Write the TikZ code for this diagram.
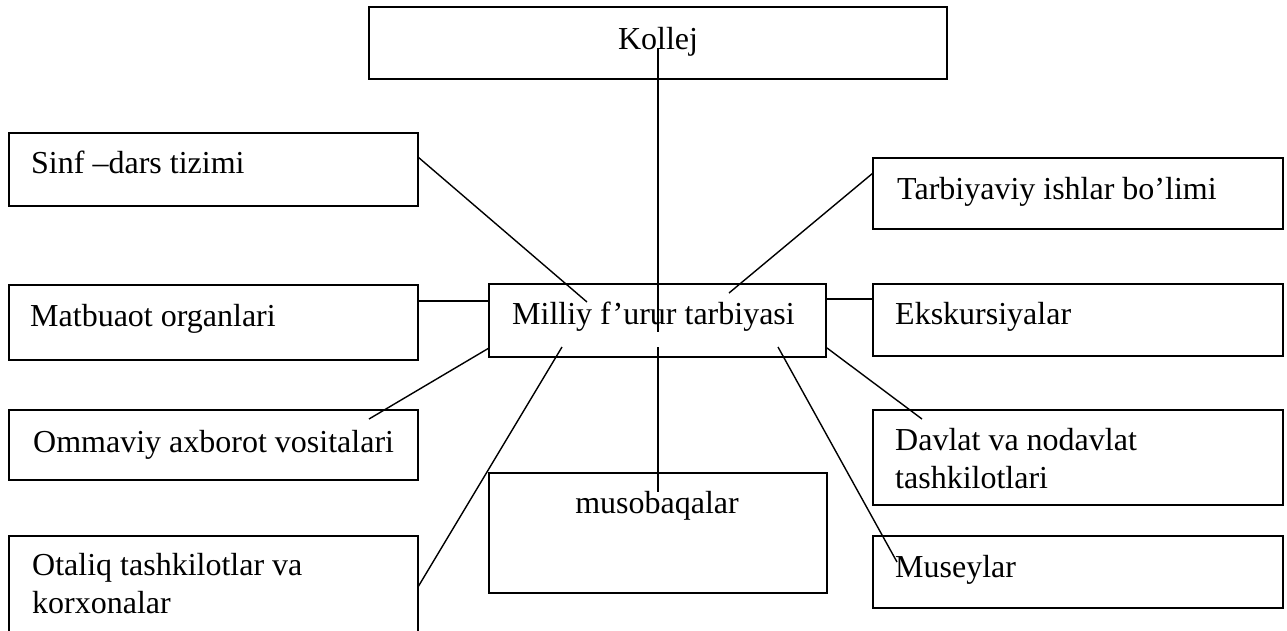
\documentclass[tikz,border=0pt]{standalone}
\usepackage{fontspec}
\setmainfont{Liberation Serif}
\begin{document}
\begin{tikzpicture}[x=1pt,y=-1pt,
  box/.style={draw, line width=2pt, inner sep=0pt, outer sep=0pt},
  link/.style={line width=1.4pt},
  lbl/.style={inner sep=0pt, anchor=base west, font=\fontsize{32}{38}\selectfont, align=left},
  clbl/.style={inner sep=0pt, anchor=base, font=\fontsize{32}{38}\selectfont}]
\useasboundingbox (0,0) rectangle (1287,630);
\clip (0,0) rectangle (1287,630);
\fill[white] (0,0) rectangle (1287,630);

% boxes
\node[box, minimum width=578pt, minimum height=72pt] (kollej) at (658,43) {};
\node[box, minimum width=409pt, minimum height=73pt] (sinf) at (213.5,169.5) {};
\node[box, minimum width=410pt, minimum height=71pt] (tarb) at (1078,193.5) {};
\node[box, minimum width=409pt, minimum height=75pt] (matb) at (213.5,322) {};
\node[box, minimum width=337pt, minimum height=73pt] (milliy) at (657.5,320.5) {};
\node[box, minimum width=410pt, minimum height=72pt] (eks) at (1078,320) {};
\node[box, minimum width=409pt, minimum height=70pt] (omm) at (213.5,445) {};
\node[box, minimum width=410pt, minimum height=95pt] (davlat) at (1078,457.5) {};
\node[box, minimum width=338pt, minimum height=120pt] (musob) at (658,533) {};
\node[box, minimum width=409pt, minimum height=114pt] (otaliq) at (213.5,593) {};
\node[box, minimum width=410pt, minimum height=72pt] (muse) at (1078,572) {};

% texts
\node[clbl] (tkollej) at (658,49) {Kollej};
\node[lbl] (tsinf) at (31,173) {Sinf –dars tizimi};
\node[lbl] (ttarb) at (897,199) {Tarbiyaviy ishlar bo’limi};
\node[lbl] (tmatb) at (30,326) {Matbuaot organlari};
\node[lbl] (tmilliy) at (512,324) {Milliy f’urur tarbiyasi};
\node[lbl] (teks) at (895,324) {Ekskursiyalar};
\node[lbl] (tomm) at (33,452) {Ommaviy axborot vositalari};
\node[lbl] (tdavlat) at (895,488) {Davlat va nodavlat\\tashkilotlari};
\node[clbl] (tmusob) at (657,513) {musobaqalar};
\node[lbl] (totaliq) at (32,613) {Otaliq tashkilotlar va\\korxonalar};
\node[lbl] (tmuse) at (895,577) {Museylar};

% connector end points
\coordinate (k1) at (658,48);
\coordinate (k2) at (658,332);
\coordinate (m1) at (658,347);
\coordinate (m2) at (658,492);
\coordinate (s1) at (418,157);
\coordinate (s2) at (587,302);
\coordinate (t1) at (873,173);
\coordinate (t2) at (729,293);
\coordinate (ma1) at (418,301);
\coordinate (ma2) at (489,301);
\coordinate (e1) at (826,299);
\coordinate (e2) at (873,299);
\coordinate (o1) at (489,348);
\coordinate (o2) at (369,419);
\coordinate (ot1) at (562,347);
\coordinate (ot2) at (418,587);
\coordinate (d1) at (827,348);
\coordinate (d2) at (922,419);
\coordinate (mu1) at (778,347);
\coordinate (mu2) at (897,562);

% connectors
\draw[link] (k1) -- (k2);
\draw[link] (m1) -- (m2);
\draw[link] (s1) -- (s2);
\draw[link] (t1) -- (t2);
\draw[link] (ma1) -- (ma2);
\draw[link] (e1) -- (e2);
\draw[link] (o1) -- (o2);
\draw[link] (ot1) -- (ot2);
\draw[link] (d1) -- (d2);
\draw[link] (mu1) -- (mu2);
\end{tikzpicture}
\end{document}
